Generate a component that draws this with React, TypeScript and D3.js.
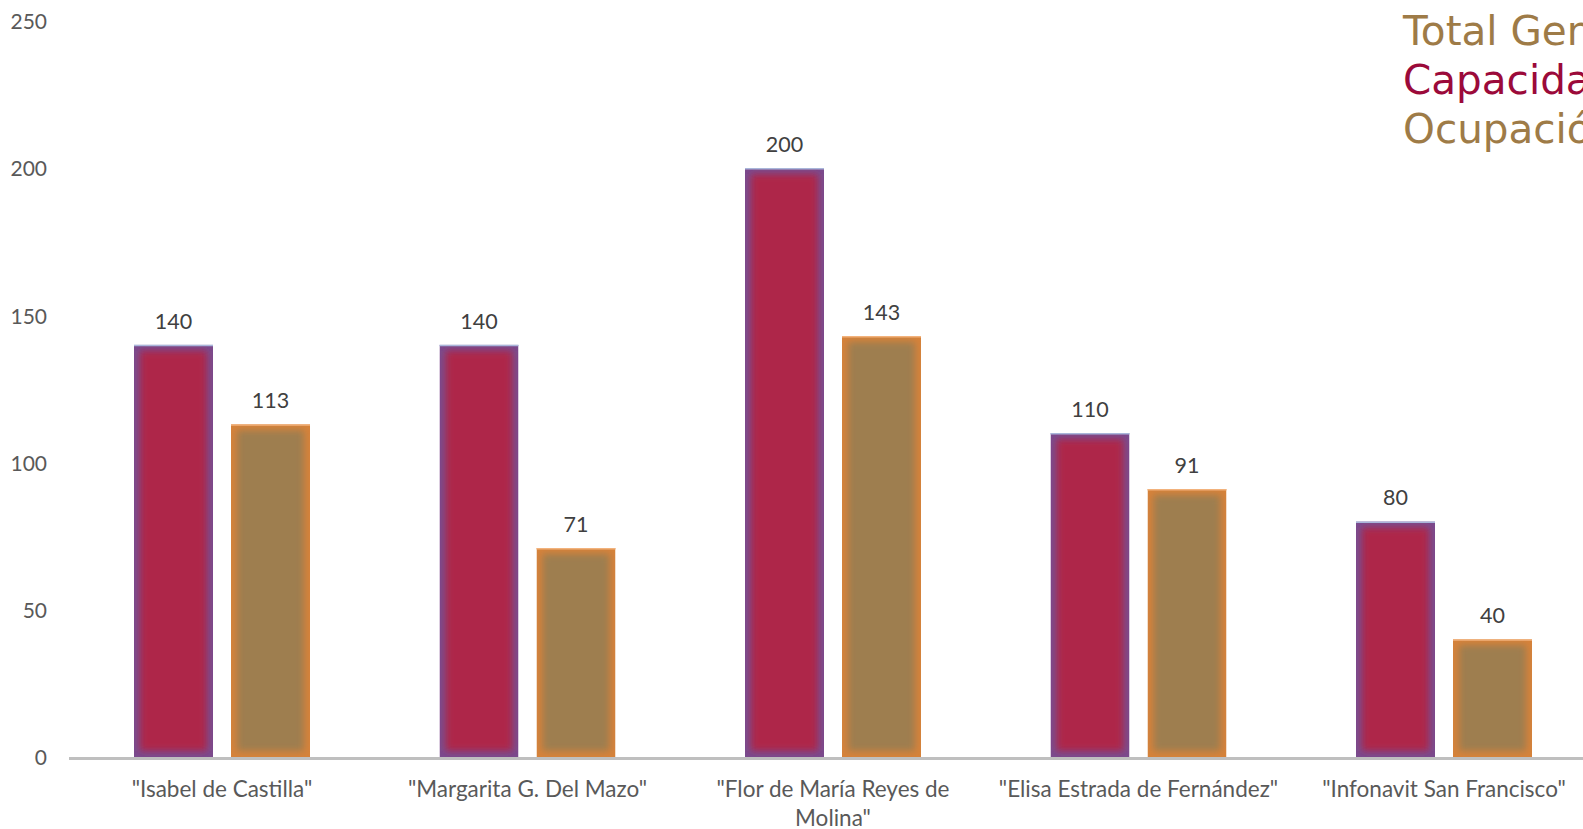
import React from "react";
import * as d3 from "d3";

const categories = [
  "\"Isabel de Castilla\"",
  "\"Margarita G. Del Mazo\"",
  "\"Flor de María Reyes de Molina\"",
  "\"Elisa Estrada de Fernández\"",
  "\"Infonavit San Francisco\"",
];
const capacidad = [140, 140, 200, 110, 80];
const ocupacion = [113, 71, 143, 91, 40];
const yTicks = [0, 50, 100, 150, 200, 250];
const legendLines = [
  { text: "Total General", color: "#9E7B47" },
  { text: "Capacidad", color: "#9B0A3A" },
  { text: "Ocupación", color: "#9E7B47" },
];

const W = 1583;
const H = 829;
const FONT = "Lato, 'Liberation Sans', sans-serif";

function wrap(text: string, maxW: number, font: string): string[] {
  const c = document.createElement("canvas").getContext("2d")!;
  c.font = font;
  const words = text.split(" ");
  const lines: string[] = [];
  let cur = "";
  for (const w of words) {
    const t = cur ? cur + " " + w : w;
    if (c.measureText(t).width > maxW && cur) {
      lines.push(cur);
      cur = w;
    } else cur = t;
  }
  if (cur) lines.push(cur);
  return lines;
}

export default function App() {
  const x = d3.scaleBand<string>().domain(categories).range([69.25, 69.25 + 5 * 305.5]).padding(0);
  const y = d3.scaleLinear().domain([0, 250]).range([757, 20.8]);
  const bw = 79;
  const off = 48.5;
  const series = [
    { values: capacidad, dx: -off, edge: "#7A4B8E", fill: "#AE2848", top: "#A9B6DA", key: "c" },
    { values: ocupacion, dx: off, edge: "#D6823A", fill: "#9E7E4F", top: "#F2B27C", key: "o" },
  ];
  const catFont = "22.5px " + FONT;
  return (
    <svg width={W} height={H} style={{ position: "absolute", left: 0, top: 0, background: "#fff" }}>
      <defs>
        <filter id="blur" x="-50%" y="-50%" width="200%" height="200%">
          <feGaussianBlur stdDeviation="3.5" />
        </filter>
        {series.map((s) =>
          s.values.map((v, i) => {
            const cx = x(categories[i])! + x.bandwidth() / 2 + s.dx;
            return (
              <clipPath id={`clip-${s.key}-${i}`} key={`${s.key}${i}`}>
                <rect x={cx - bw / 2} y={y(v)} width={bw} height={y(0) - y(v)} />
              </clipPath>
            );
          })
        )}
      </defs>
      {yTicks.map((t) => (
        <text key={t} x={47} y={y(t) + 1} dy="0.35em" textAnchor="end" fill="#595959"
          style={{ font: "21px " + FONT }}>{t}</text>
      ))}
      {series.map((s) =>
        s.values.map((v, i) => {
          const cx = x(categories[i])! + x.bandwidth() / 2 + s.dx;
          const x0 = cx - bw / 2;
          const y0 = y(v);
          const h = y(0) - y0;
          return (
            <g key={`${s.key}${i}`}>
              <g clipPath={`url(#clip-${s.key}-${i})`}>
                <rect x={x0} y={y0} width={bw} height={h} fill={s.edge} />
                <rect x={x0 + 6} y={y0 + 6} width={bw - 12} height={h - 12} fill={s.fill} filter="url(#blur)" />
              </g>
              <line x1={x0} x2={x0 + bw} y1={y0 + 0.75} y2={y0 + 0.75} stroke={s.top} strokeWidth={1.5} />
              <text x={cx} y={y0 - 16} textAnchor="middle" fill="#404040" style={{ font: "21.5px " + FONT }}>{v}</text>
            </g>
          );
        })
      )}
      <line x1={69} x2={W} y1={758.5} y2={758.5} stroke="#BFBFBF" strokeWidth={3} />
      {categories.map((c) => {
        const lines = wrap(c, 290, catFont);
        const cx = x(c)! + x.bandwidth() / 2;
        return (
          <text key={c} textAnchor="middle" fill="#595959" style={{ font: catFont }}>
            {lines.map((l, j) => (
              <tspan key={j} x={cx} y={797 + j * 29}>{l}</tspan>
            ))}
          </text>
        );
      })}
      {legendLines.map((l, i) => (
        <text key={l.text} x={1403} y={45 + i * 49} fill={l.color}
          style={{ font: "40.5px 'DejaVu Sans', 'Open Sans', sans-serif" }}>{l.text}</text>
      ))}
    </svg>
  );
}
